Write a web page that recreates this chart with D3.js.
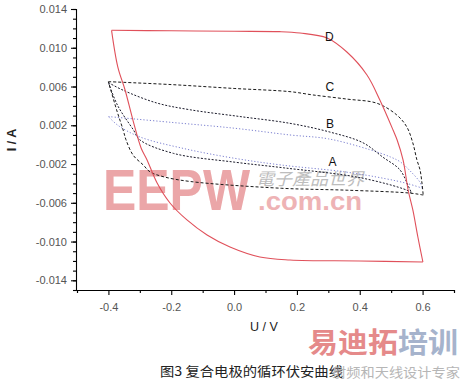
<!DOCTYPE html>
<html>
<head>
<meta charset="utf-8">
<style>
  body { margin: 0; background: #fff; }
  svg { display: block; font-family: "Liberation Sans", Arial, sans-serif; }
  .axis path, .axis line { stroke: #000; stroke-width: 1.1; }
  .axis text { font-size: 11px; fill: #555; }
  .curve { fill: none; }
  .lbl { font-size: 12px; fill: #111; text-anchor: middle; }
</style>
<script src="https://d3js.org/d3.v7.min.js"></script>
</head>
<body>
<svg width="463" height="379"></svg>
<script>
// tick labels
const xTicks = [-0.4, -0.2, 0.0, 0.2, 0.4, 0.6];
const xMinor = [-0.5, -0.3, -0.1, 0.1, 0.3, 0.5, 0.7];
const yTicks = [-0.014, -0.010, -0.006, -0.002, 0.002, 0.006, 0.010, 0.014];

// curve D (red)
const dUpV = [-0.39, -0.2, 0.0, 0.146, 0.21, 0.296, 0.359, 0.423, 0.464, 0.506, 0.519, 0.538, 0.554, 0.569, 0.585, 0.601];
const dUpI = [0.0118, 0.01175, 0.0117, 0.01166, 0.01152, 0.01101, 0.00956, 0.00719, 0.00461, 0.00151, 0.00048, -0.0016, -0.00468, -0.00674, -0.00953, -0.01211];
const dLoV = [0.601, 0.4, 0.178, 0.082, -0.013, -0.086, -0.15, -0.204, -0.245, -0.277, -0.296, -0.322, -0.347, -0.37, -0.39];
const dLoI = [-0.01211, -0.0120, -0.0119, -0.01159, -0.01056, -0.00932, -0.00777, -0.00602, -0.00396, -0.00158, -0.00034, 0.00254, 0.00564, 0.00801, 0.0118];

// curve C
const cUpV = [-0.40, -0.2, 0.0, 0.178, 0.251, 0.36, 0.455, 0.518, 0.55, 0.569, 0.582, 0.592, 0.598, 0.602];
const cUpI = [0.0065, 0.0062, 0.0058, 0.00547, 0.00513, 0.0047, 0.00427, 0.00306, 0.00182, 0.00017, -0.00158, -0.00262, -0.00396, -0.0052];
const cLoV = [0.602, 0.56, 0.36, 0.15, -0.14, -0.226, -0.268, -0.289, -0.321, -0.344, -0.353, -0.374, -0.40];
const cLoI = [-0.0052, -0.0050, -0.0047, -0.0045, -0.0038, -0.0033, -0.0028, -0.0021, -0.0011, 0.0005, 0.0015, 0.0036, 0.0065];

// curve B
const bUpV = [-0.40, -0.352, -0.246, -0.14, 0.019, 0.178, 0.305, 0.41, 0.474, 0.528, 0.555, 0.565];
const bUpI = [0.0064, 0.0056, 0.0043, 0.0036, 0.0029, 0.0022, 0.0013, 0.0002, -0.0013, -0.0026, -0.0043, -0.0050];
const bLoV = [0.565, 0.55, 0.4, 0.16, 0.0, -0.193, -0.30, -0.32, -0.37, -0.40];
const bLoI = [-0.0050, -0.0047, -0.0034, -0.0024, -0.0018, -0.0009, 0.0005, 0.0015, 0.0040, 0.0064];

// curve A
const aUpV = [-0.40, -0.2, 0.0, 0.178, 0.3, 0.43, 0.5, 0.53, 0.56, 0.59, 0.60];
const aUpI = [0.0029, 0.0023, 0.0017, 0.0010, 0.0006, -0.0005, -0.0013, -0.0018, -0.0027, -0.0038, -0.0045];
const aLoV = [0.60, 0.55, 0.48, 0.35, 0.15, 0.0, -0.16, -0.3, -0.37, -0.40];
const aLoI = [-0.0045, -0.0040, -0.0035, -0.0028, -0.0021, -0.0014, -0.0004, 0.0008, 0.0020, 0.0029];

const svg = d3.select("svg");
const x = d3.scaleLinear().domain([-0.5, 0.7]).range([77, 454]);
const y = d3.scaleLinear().domain([-0.015, 0.014]).range([290, 9]);

const fmt = p => (d => d3.format("." + p + "f")(d).replace("\u2212", "-"));

// watermark (faint, behind curves)
const wm = svg.append("g");
wm.append("text").attr("x", 103).attr("y", 210).attr("textLength", 147).attr("lengthAdjust", "spacingAndGlyphs")
  .style("font-size", "58px").style("font-weight", "bold").style("fill", "#eba6a8").text("EEPW");
wm.append("text").attr("x", 258).attr("y", 210).attr("textLength", 104).attr("lengthAdjust", "spacingAndGlyphs")
  .style("font-size", "26px").style("font-weight", "bold").style("fill", "#eeb3b5").text(".com.cn");
wm.append("text").attr("x", 256).attr("y", 185).attr("textLength", 108).attr("lengthAdjust", "spacingAndGlyphs")
  .style("font-family", "Noto Sans CJK TC").style("font-size", "17px").style("font-style", "italic")
  .style("fill", "#bdbdbd").text("電子產品世界");

// axes
const yMinor = d3.range(-15, 15).map(d => d / 1000);
svg.append("g").attr("class", "axis").attr("transform", "translate(76,0)")
  .call(d3.axisLeft(y).tickValues(yMinor).tickSize(3).tickFormat(""));
svg.append("g").attr("class", "axis").attr("transform", "translate(76,0)")
  .call(d3.axisLeft(y).tickValues(yTicks).tickSize(5).tickPadding(4).tickFormat(fmt(3)))
  .select(".domain").remove();
svg.append("g").attr("class", "axis").attr("transform", "translate(0,290)")
  .call(d3.axisBottom(x).tickValues(xMinor).tickSize(3).tickFormat(""));
svg.append("g").attr("class", "axis").attr("transform", "translate(0,290)")
  .call(d3.axisBottom(x).tickValues(xTicks).tickSize(5).tickPadding(8).tickFormat(fmt(1)))
  .select(".domain").remove();

// curves
const line = d3.line().x(d => x(d[0])).y(d => y(d[1])).curve(d3.curveCatmullRom.alpha(0.5));
const branch = (vs, is) => vs.map((v, k) => [v, is[k]]);
const curves = [
  { parts: [[aUpV, aUpI], [aLoV, aLoI]], color: "#7b7fd0", dash: "1.2,2", w: 1 },
  { parts: [[bUpV, bUpI], [bLoV, bLoI]], color: "#1a1a2a", dash: "2,1.6", w: 1 },
  { parts: [[cUpV, cUpI], [cLoV, cLoI]], color: "#1a1a1a", dash: "3,2", w: 1 },
  { parts: [[dUpV, dUpI], [dLoV, dLoI]], color: "#e0505a", dash: null, w: 1.1 }
];
curves.forEach(c => {
  c.parts.forEach(p => {
    svg.append("path").attr("class", "curve")
      .attr("d", line(branch(p[0], p[1])))
      .attr("stroke", c.color).attr("stroke-width", c.w)
      .attr("stroke-dasharray", c.dash);
  });
});

// curve labels
[["D", 0.303, 0.0107], ["C", 0.305, 0.00554], ["B", 0.305, 0.00167], ["A", 0.313, -0.00225]].forEach(l => {
  svg.append("text").attr("class", "lbl").attr("x", x(l[1])).attr("y", y(l[2])).text(l[0]);
});

// axis titles
svg.append("text").attr("x", 264).attr("y", 331).attr("text-anchor", "middle")
  .style("font-size", "12.5px").style("fill", "#222").text("U / V");
svg.append("text").attr("transform", "translate(16,140) rotate(-90)").attr("text-anchor", "middle")
  .style("font-size", "12.5px").style("font-weight", "bold").style("fill", "#222").text("I / A");

// caption + lower watermark
svg.append("text").attr("x", 308).attr("y", 353).attr("textLength", 150).attr("lengthAdjust", "spacingAndGlyphs")
  .style("font-family", "Noto Sans CJK SC").style("font-size", "28px").style("font-weight", "bold")
  .html('<tspan fill="#e58a8a">易迪拓</tspan><tspan fill="#a6b3cc">培训</tspan>');
svg.append("text").attr("x", 160).attr("y", 376).attr("textLength", 183).attr("lengthAdjust", "spacingAndGlyphs")
  .style("font-family", "Noto Sans CJK SC").style("font-size", "13px").style("fill", "#222")
  .text("图3 复合电极的循环伏安曲线");
svg.append("text").attr("x", 332).attr("y", 377).attr("textLength", 128).attr("lengthAdjust", "spacingAndGlyphs")
  .style("font-family", "Noto Sans CJK SC").style("font-size", "13px").style("fill", "#aaa").style("opacity", 0.85)
  .text("射频和天线设计专家");
</script>
</body>
</html>
